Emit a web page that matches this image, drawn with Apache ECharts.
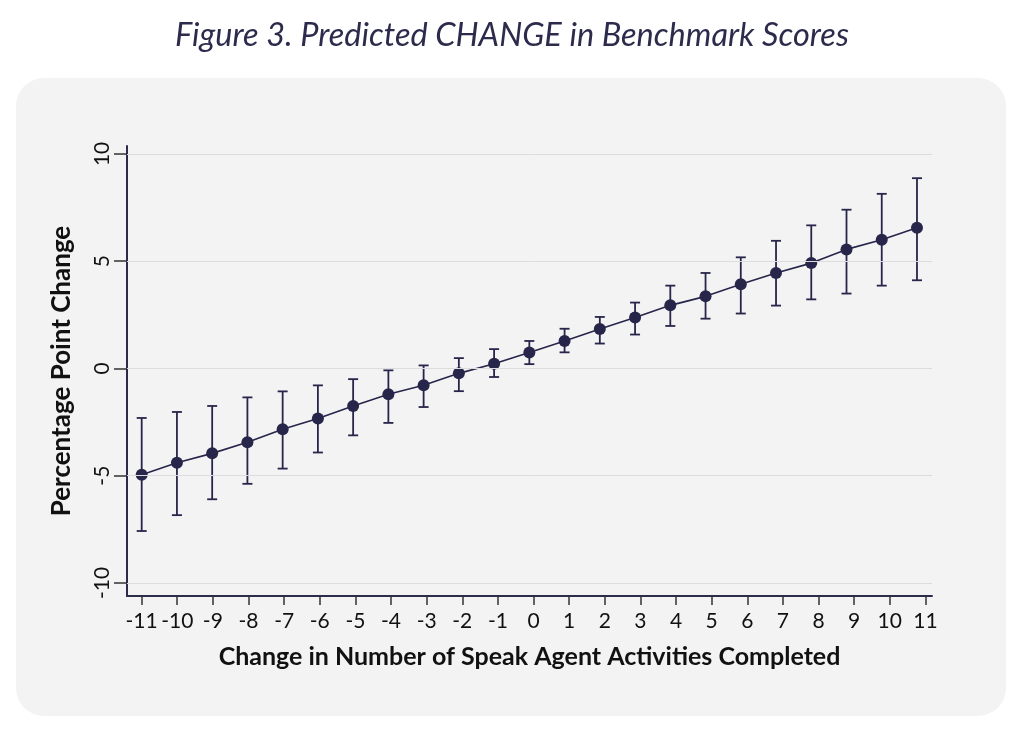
<!DOCTYPE html>
<html>
<head>
<meta charset="utf-8">
<script src="https://cdn.jsdelivr.net/npm/echarts@6/dist/echarts.min.js"></script>
<style>
  html, body { margin: 0; padding: 0; background: #ffffff; }
  #wrap { position: relative; width: 1024px; height: 738px; }
  #card { position: absolute; left: 16px; top: 78px; width: 990px; height: 638px;
          background: #f3f3f4; border-radius: 28px; }
  #chart { position: absolute; left: 0; top: 0; width: 1024px; height: 738px; }
</style>
</head>
<body>
<div id="wrap">
  <div id="card"></div>
  <div id="chart"></div>
</div>
<script>
// ---- data ----
const categories = [-11,-10,-9,-8,-7,-6,-5,-4,-3,-2,-1,0,1,2,3,4,5,6,7,8,9,10,11];
const estimates  = [-4.96,-4.40,-3.96,-3.44,-2.84,-2.33,-1.75,-1.20,-0.78,-0.23,0.22,0.74,1.28,1.84,2.37,2.94,3.36,3.92,4.45,4.91,5.55,6.00,6.56];
const upperCI    = [-2.31,-2.03,-1.75,-1.35,-1.07,-0.79,-0.50,-0.09,0.14,0.48,0.90,1.28,1.85,2.40,3.07,3.86,4.45,5.18,5.95,6.67,7.40,8.14,8.87];
const lowerCI    = [-7.58,-6.84,-6.10,-5.38,-4.67,-3.92,-3.12,-2.54,-1.80,-1.06,-0.40,0.20,0.75,1.16,1.58,1.98,2.32,2.56,2.93,3.22,3.49,3.86,4.11];
const yTicks     = [-10,-5,0,5,10];
const xTicks     = categories;

const navy = '#27254a';

const chart = echarts.init(document.getElementById('chart'), null, {renderer: 'canvas'});

const pointData = categories.map((c, i) => [c, estimates[i]]);
const ciData = categories.map((c, i) => [c, lowerCI[i], upperCI[i]]);

chart.setOption({
  backgroundColor: 'transparent',
  animation: false,
  title: {
    text: 'Figure 3. Predicted CHANGE in Benchmark Scores',
    left: 'center',
    top: 14,
    textStyle: { fontFamily: 'Lato', fontStyle: 'italic', fontWeight: 'normal', fontSize: 32.5, color: '#2c2b4c' }
  },
  grid: { left: 127, right: 92, top: 146, bottom: 142, containLabel: false },
  xAxis: [
    {
      type: 'value', min: -11.41, max: 11.185,
      name: 'Change in Number of Speak Agent Activities Completed',
      nameLocation: 'middle', nameGap: 48,
      nameTextStyle: { fontFamily: 'Lato', fontWeight: 'bold', fontSize: 25, color: '#111111' },
      axisLine: { show: true, onZero: false, lineStyle: { color: '#2d2b4b', width: 2 } },
      axisTick: { show: true, length: 9, customValues: xTicks, lineStyle: { color: '#333333', width: 1.5 } },
      axisLabel: { show: true, customValues: xTicks, margin: 15, fontFamily: 'Lato', fontSize: 21, color: '#111111',
                   showMinLabel: true, showMaxLabel: true },
      splitLine: { show: false }
    },
    {
      type: 'value', min: -11.417, max: 11.426, show: false,
      splitLine: { show: false }
    }
  ],
  yAxis: {
    type: 'value', min: -10.61, max: 10.37,
    name: 'Percentage Point Change',
    nameLocation: 'middle', nameGap: 52,
    nameTextStyle: { fontFamily: 'Lato', fontWeight: 'bold', fontSize: 26, color: '#111111' },
    axisLine: { show: true, onZero: false, lineStyle: { color: '#2d2b4b', width: 2 } },
    axisTick: { show: true, length: 13, customValues: yTicks, lineStyle: { color: '#333333', width: 1.5 } },
    axisLabel: { show: true, customValues: yTicks, rotate: 90, margin: 14, fontFamily: 'Lato', fontSize: 21, color: '#111111' },
    splitLine: { show: false }
  },
  series: [
    {
      name: 'grid',
      type: 'line',
      data: [],
      xAxisIndex: 0,
      z: 0,
      markLine: {
        silent: true,
        symbol: 'none',
        label: { show: false },
        lineStyle: { color: '#dcdcde', width: 1, type: 'solid' },
        data: yTicks.map(v => ({ yAxis: v }))
      }
    },
    {
      name: 'CI',
      type: 'custom',
      xAxisIndex: 1,
      z: 3,
      data: ciData,
      renderItem: function (params, api) {
        const x = api.value(0);
        const lo = api.coord([x, api.value(1)]);
        const hi = api.coord([x, api.value(2)]);
        const half = 5;
        const style = { stroke: navy, lineWidth: 1.8, fill: null };
        return {
          type: 'group',
          children: [
            { type: 'line', shape: { x1: lo[0], y1: lo[1], x2: hi[0], y2: hi[1] }, style: style },
            { type: 'line', shape: { x1: hi[0] - half, y1: hi[1], x2: hi[0] + half, y2: hi[1] }, style: style },
            { type: 'line', shape: { x1: lo[0] - half, y1: lo[1], x2: lo[0] + half, y2: lo[1] }, style: style }
          ]
        };
      }
    },
    {
      name: 'Estimate',
      type: 'line',
      xAxisIndex: 1,
      z: 4,
      data: pointData,
      symbol: 'circle',
      symbolSize: 12,
      lineStyle: { color: navy, width: 1.6 },
      itemStyle: { color: navy },
      emphasis: { disabled: true }
    }
  ]
});
</script>
</body>
</html>
